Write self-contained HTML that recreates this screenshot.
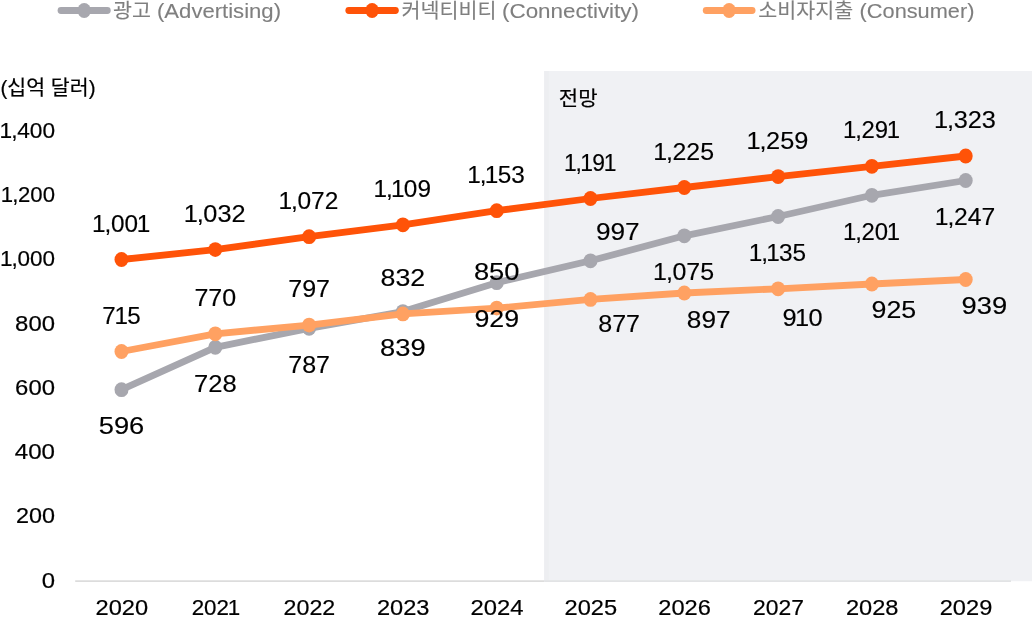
<!DOCTYPE html>
<html lang="ko"><head><meta charset="utf-8"><title>chart</title>
<style>
html,body{margin:0;padding:0;background:#fff;}
svg{display:block;font-family:"Liberation Sans", "Noto Sans CJK KR", sans-serif;}
text{white-space:pre;}
.dl{font-size:24.6px;fill:#000;stroke:#000;stroke-width:0.15px;}
.ax{font-size:22.2px;fill:#000;stroke:#000;stroke-width:0.2px;}
.ko{font-size:20px;fill:#000;stroke:#000;stroke-width:0.2px;}
.lg{font-size:20px;fill:#7f7f7f;stroke:#7f7f7f;stroke-width:0.1px;}
</style></head><body>
<svg width="1032" height="617" viewBox="0 0 1032 617">
<rect x="0" y="0" width="1032" height="617" fill="#ffffff"/>
<rect x="544.2" y="71" width="488" height="510.2" fill="#f0f1f4"/>
<rect x="544.2" y="71" width="4.6" height="510.2" fill="#edeef1"/>
<line x1="75.2" y1="581.2" x2="544.2" y2="581.2" stroke="#dcdcdc" stroke-width="1.7"/>
<line x1="544.2" y1="581.2" x2="1011" y2="581.2" stroke="#e2e3e5" stroke-width="1.7"/>
<line x1="61.0" y1="10.5" x2="107.3" y2="10.5" stroke="#a7a7ae" stroke-width="6.8" stroke-linecap="round"/><ellipse cx="84.2" cy="10.5" rx="6.8" ry="7.5" fill="#a7a7ae"/>
<text class="lg" y="17.5"><tspan x="113" textLength="38" lengthAdjust="spacingAndGlyphs">광고</tspan> <tspan x="157" textLength="124" lengthAdjust="spacingAndGlyphs">(Advertising)</tspan></text>
<line x1="348.8" y1="10.5" x2="395.4" y2="10.5" stroke="#ff5308" stroke-width="6.8" stroke-linecap="round"/><ellipse cx="372.1" cy="10.5" rx="6.8" ry="7.5" fill="#ff5308"/>
<text class="lg" y="17.5"><tspan x="401.5" textLength="95" lengthAdjust="spacingAndGlyphs">커넥티비티</tspan> <tspan x="502" textLength="137" lengthAdjust="spacingAndGlyphs">(Connectivity)</tspan></text>
<line x1="706.2" y1="10.5" x2="752.1" y2="10.5" stroke="#ffa162" stroke-width="6.8" stroke-linecap="round"/><ellipse cx="729.1" cy="10.5" rx="6.8" ry="7.5" fill="#ffa162"/>
<text class="lg" y="17.5"><tspan x="758.2" textLength="95" lengthAdjust="spacingAndGlyphs">소비자지출</tspan> <tspan x="859.6" textLength="114.8" lengthAdjust="spacingAndGlyphs">(Consumer)</tspan></text>
<text class="ko" x="0.5" y="95.3" textLength="95" lengthAdjust="spacingAndGlyphs">(십억 달러)</text>
<text class="ko" x="558.8" y="105.8" textLength="38.8" lengthAdjust="spacingAndGlyphs">전망</text>
<text class="ax" transform="translate(55.0 587.6) scale(1.077 1)" x="-12.35" y="0">0</text>
<text class="ax" transform="translate(55.0 523.3) scale(1.054 1)" x="-37.04 -24.70 -12.35" y="0">200</text>
<text class="ax" transform="translate(55.0 459.0) scale(1.087 1)" x="-37.04 -24.70 -12.35" y="0">400</text>
<text class="ax" transform="translate(55.0 394.7) scale(1.077 1)" x="-37.04 -24.70 -12.35" y="0">600</text>
<text class="ax" transform="translate(55.0 330.5) scale(1.077 1)" x="-37.04 -24.70 -12.35" y="0">800</text>
<text class="ax" transform="translate(55.0 266.2) scale(1.014 1)" x="-54.29 -42.90 -37.04 -24.70 -12.35" y="0">1,000</text>
<text class="ax" transform="translate(55.0 201.9) scale(0.998 1)" x="-54.29 -42.90 -37.04 -24.70 -12.35" y="0">1,200</text>
<text class="ax" transform="translate(55.0 137.6) scale(1.021 1)" x="-54.29 -42.90 -37.04 -24.70 -12.35" y="0">1,400</text>
<text class="ax" transform="translate(121.8 615.1) scale(1.066 1)" x="-24.70 -12.35 0.00 12.35" y="0">2020</text>
<text class="ax" transform="translate(215.6 615.1) scale(1.007 1)" x="-23.75 -11.40 0.95 12.05" y="0">2021</text>
<text class="ax" transform="translate(309.4 615.1) scale(1.048 1)" x="-24.70 -12.35 0.00 12.35" y="0">2022</text>
<text class="ax" transform="translate(403.2 615.1) scale(1.066 1)" x="-24.70 -12.35 0.00 12.35" y="0">2023</text>
<text class="ax" transform="translate(497.0 615.1) scale(1.074 1)" x="-24.70 -12.35 0.00 12.35" y="0">2024</text>
<text class="ax" transform="translate(590.8 615.1) scale(1.066 1)" x="-24.70 -12.35 0.00 12.35" y="0">2025</text>
<text class="ax" transform="translate(684.6 615.1) scale(1.066 1)" x="-24.70 -12.35 0.00 12.35" y="0">2026</text>
<text class="ax" transform="translate(778.4 615.1) scale(1.032 1)" x="-24.70 -12.35 0.00 12.35" y="0">2027</text>
<text class="ax" transform="translate(872.2 615.1) scale(1.066 1)" x="-24.70 -12.35 0.00 12.35" y="0">2028</text>
<text class="ax" transform="translate(966.0 615.1) scale(1.066 1)" x="-24.70 -12.35 0.00 12.35" y="0">2029</text>
<polyline points="121.5,389.7 215.3,347.3 309.1,328.3 402.9,311.6 496.7,282.7 590.5,260.8 684.3,235.8 778.1,216.5 871.9,195.3 965.7,180.5" fill="none" stroke="#a7a7ae" stroke-width="6.8" stroke-linejoin="round" stroke-linecap="round"/>
<ellipse cx="121.5" cy="389.7" rx="7.0" ry="7.4" fill="#a7a7ae"/><ellipse cx="215.3" cy="347.3" rx="7.0" ry="7.4" fill="#a7a7ae"/><ellipse cx="309.1" cy="328.3" rx="7.0" ry="7.4" fill="#a7a7ae"/><ellipse cx="402.9" cy="311.6" rx="7.0" ry="7.4" fill="#a7a7ae"/><ellipse cx="496.7" cy="282.7" rx="7.0" ry="7.4" fill="#a7a7ae"/><ellipse cx="590.5" cy="260.8" rx="7.0" ry="7.4" fill="#a7a7ae"/><ellipse cx="684.3" cy="235.8" rx="7.0" ry="7.4" fill="#a7a7ae"/><ellipse cx="778.1" cy="216.5" rx="7.0" ry="7.4" fill="#a7a7ae"/><ellipse cx="871.9" cy="195.3" rx="7.0" ry="7.4" fill="#a7a7ae"/><ellipse cx="965.7" cy="180.5" rx="7.0" ry="7.4" fill="#a7a7ae"/>
<polyline points="121.5,259.5 215.3,249.6 309.1,236.7 402.9,224.8 496.7,210.7 590.5,198.5 684.3,187.5 778.1,176.6 871.9,166.3 965.7,156.0" fill="none" stroke="#ff5308" stroke-width="6.8" stroke-linejoin="round" stroke-linecap="round"/>
<ellipse cx="121.5" cy="259.5" rx="7.0" ry="7.4" fill="#ff5308"/><ellipse cx="215.3" cy="249.6" rx="7.0" ry="7.4" fill="#ff5308"/><ellipse cx="309.1" cy="236.7" rx="7.0" ry="7.4" fill="#ff5308"/><ellipse cx="402.9" cy="224.8" rx="7.0" ry="7.4" fill="#ff5308"/><ellipse cx="496.7" cy="210.7" rx="7.0" ry="7.4" fill="#ff5308"/><ellipse cx="590.5" cy="198.5" rx="7.0" ry="7.4" fill="#ff5308"/><ellipse cx="684.3" cy="187.5" rx="7.0" ry="7.4" fill="#ff5308"/><ellipse cx="778.1" cy="176.6" rx="7.0" ry="7.4" fill="#ff5308"/><ellipse cx="871.9" cy="166.3" rx="7.0" ry="7.4" fill="#ff5308"/><ellipse cx="965.7" cy="156.0" rx="7.0" ry="7.4" fill="#ff5308"/>
<polyline points="121.5,351.5 215.3,333.8 309.1,325.1 402.9,313.9 496.7,308.1 590.5,299.4 684.3,293.0 778.1,288.8 871.9,284.0 965.7,279.5" fill="none" stroke="#ffa162" stroke-width="6.8" stroke-linejoin="round" stroke-linecap="round"/>
<ellipse cx="121.5" cy="351.5" rx="7.0" ry="7.4" fill="#ffa162"/><ellipse cx="215.3" cy="333.8" rx="7.0" ry="7.4" fill="#ffa162"/><ellipse cx="309.1" cy="325.1" rx="7.0" ry="7.4" fill="#ffa162"/><ellipse cx="402.9" cy="313.9" rx="7.0" ry="7.4" fill="#ffa162"/><ellipse cx="496.7" cy="308.1" rx="7.0" ry="7.4" fill="#ffa162"/><ellipse cx="590.5" cy="299.4" rx="7.0" ry="7.4" fill="#ffa162"/><ellipse cx="684.3" cy="293.0" rx="7.0" ry="7.4" fill="#ffa162"/><ellipse cx="778.1" cy="288.8" rx="7.0" ry="7.4" fill="#ffa162"/><ellipse cx="871.9" cy="284.0" rx="7.0" ry="7.4" fill="#ffa162"/><ellipse cx="965.7" cy="279.5" rx="7.0" ry="7.4" fill="#ffa162"/>
<text class="dl" transform="translate(121.5 231.6) scale(0.990 1)" x="-29.72 -17.10 -10.61 3.07 15.37" y="0">1,001</text>
<text class="dl" transform="translate(215.3 221.6) scale(1.029 1)" x="-30.77 -18.15 -11.66 2.02 15.71" y="0">1,032</text>
<text class="dl" transform="translate(309.1 208.8) scale(0.997 1)" x="-30.77 -18.15 -11.66 2.02 15.71" y="0">1,072</text>
<text class="dl" transform="translate(402.9 196.9) scale(0.990 1)" x="-29.72 -17.10 -11.99 0.97 14.66" y="0">1,109</text>
<text class="dl" transform="translate(496.7 182.7) scale(0.990 1)" x="-29.72 -17.10 -11.99 0.97 14.66" y="0">1,153</text>
<text class="dl" transform="translate(590.5 170.5) scale(0.929 1)" x="-28.67 -16.05 -10.94 2.02 14.32" y="0">1,191</text>
<text class="dl" transform="translate(684.3 159.6) scale(1.012 1)" x="-30.77 -18.15 -11.66 2.02 15.71" y="0">1,225</text>
<text class="dl" transform="translate(778.1 148.7) scale(1.029 1)" x="-30.77 -18.15 -11.66 2.02 15.71" y="0">1,259</text>
<text class="dl" transform="translate(871.9 138.4) scale(0.972 1)" x="-29.72 -17.10 -10.61 3.07 15.37" y="0">1,291</text>
<text class="dl" transform="translate(965.7 128.1) scale(1.029 1)" x="-30.77 -18.15 -11.66 2.02 15.71" y="0">1,323</text>
<text class="dl" transform="translate(121.5 434.1) scale(1.111 1)" x="-20.52 -6.84 6.84" y="0">596</text>
<text class="dl" transform="translate(215.3 391.6) scale(1.040 1)" x="-20.52 -6.84 6.84" y="0">728</text>
<text class="dl" transform="translate(309.1 372.7) scale(1.018 1)" x="-20.52 -6.84 6.84" y="0">787</text>
<text class="dl" transform="translate(402.9 356.0) scale(1.111 1)" x="-20.52 -6.84 6.84" y="0">839</text>
<text class="dl" transform="translate(496.7 327.0) scale(1.087 1)" x="-20.52 -6.84 6.84" y="0">929</text>
<text class="dl" transform="translate(617.8 239.6) scale(1.065 1)" x="-20.52 -6.84 6.84" y="0">997</text>
<text class="dl" transform="translate(684.3 280.1) scale(1.014 1)" x="-30.77 -18.15 -11.66 2.02 15.71" y="0">1,075</text>
<text class="dl" transform="translate(778.1 260.8) scale(0.990 1)" x="-29.72 -17.10 -11.99 0.97 14.66" y="0">1,135</text>
<text class="dl" transform="translate(871.9 239.6) scale(0.972 1)" x="-29.72 -17.10 -10.61 3.07 15.37" y="0">1,201</text>
<text class="dl" transform="translate(965.7 224.8) scale(1.004 1)" x="-30.77 -18.15 -11.66 2.02 15.71" y="0">1,247</text>
<text class="dl" transform="translate(121.5 323.5) scale(0.983 1)" x="-19.47 -7.17 5.79" y="0">715</text>
<text class="dl" transform="translate(215.3 305.8) scale(1.018 1)" x="-20.52 -6.84 6.84" y="0">770</text>
<text class="dl" transform="translate(309.1 297.2) scale(1.018 1)" x="-20.52 -6.84 6.84" y="0">797</text>
<text class="dl" transform="translate(402.9 285.9) scale(1.087 1)" x="-20.52 -6.84 6.84" y="0">832</text>
<text class="dl" transform="translate(496.7 280.1) scale(1.111 1)" x="-20.52 -6.84 6.84" y="0">850</text>
<text class="dl" transform="translate(619.1 331.8) scale(1.018 1)" x="-20.52 -6.84 6.84" y="0">877</text>
<text class="dl" transform="translate(708.7 328.1) scale(1.065 1)" x="-20.52 -6.84 6.84" y="0">897</text>
<text class="dl" transform="translate(802.5 325.9) scale(1.032 1)" x="-19.47 -7.17 5.79" y="0">910</text>
<text class="dl" transform="translate(893.9 318.3) scale(1.087 1)" x="-20.52 -6.84 6.84" y="0">925</text>
<text class="dl" transform="translate(984.3 313.8) scale(1.111 1)" x="-20.52 -6.84 6.84" y="0">939</text>
</svg></body></html>
